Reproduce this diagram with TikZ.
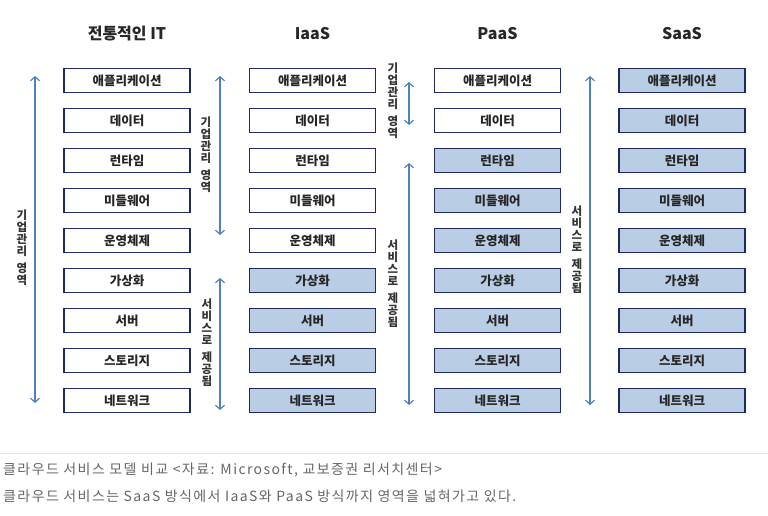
\documentclass[tikz,border=0pt]{standalone}
\usepackage{fontspec}
\setmainfont{Noto Sans CJK KR}
\newfontfamily\capfont{Noto Sans CJK KR}[LetterSpace=10]
\usetikzlibrary{arrows.meta}
\definecolor{navy}{HTML}{1F2B5E}
\definecolor{lblue}{HTML}{B9CDE5}
\definecolor{arr}{HTML}{4F81BD}
\definecolor{capgray}{HTML}{666666}
\definecolor{sepc}{HTML}{E6E6E6}
\begin{document}
\begin{tikzpicture}[x=1pt,y=-1pt,
 layer/.style={draw=navy, line width=1.9pt, minimum width=126pt, minimum height=24pt, inner sep=0pt, font=\bfseries\fontsize{12.5}{14}\selectfont, text=black!85},
 own/.style={layer, fill=white},
 svc/.style={layer, fill=lblue},
 hdr/.style={font=\bfseries\fontsize{16}{18}\selectfont, text=black!85},
 vlab/.style={font=\bfseries\fontsize{11.5}{12}\selectfont, align=center, inner sep=0pt, text=black!80},
 spanarr/.style={draw=arr, line width=1.2pt, {Straight Barb[length=4pt,width=9pt]}-{Straight Barb[length=4pt,width=9pt]}},
 captxt/.style={font=\capfont\fontsize{14}{16}\selectfont, text=capgray, anchor=west, inner sep=0pt}]

\useasboundingbox (0,0) rectangle (768,516);
\draw[sepc, line width=1pt] (0,453) -- (768,453);

% headers
\node[hdr] (h1) at (127,34) {전통적인 IT};
\node[hdr] (h2) at (312.5,34) {IaaS};
\node[hdr] (h3) at (497.5,34) {PaaS};
\node[hdr] (h4) at (682,34) {SaaS};

% layer boxes
\foreach \cx/\th/\c in {127/9/1, 312.5/5/2, 497.5/2/3, 682/0/4} {
  \foreach \t [count=\i] in {애플리케이션,데이터,런타임,미들웨어,운영체제,가상화,서버,스토리지,네트워크} {
    \ifnum\i>\th\relax \tikzset{cur/.style={svc}}\else\tikzset{cur/.style={own}}\fi
    \node[cur] (c\c r\i) at (\cx, 40*\i+40.5) {\t};
  }
}

% arrows
\coordinate (a1t) at (35,76);   \coordinate (a1b) at (35,403);
\coordinate (a2t) at (220,76);  \coordinate (a2b) at (220,235);
\coordinate (a2u) at (220,278); \coordinate (a2d) at (220,410);
\coordinate (a3t) at (409,82);  \coordinate (a3b) at (409,125);
\coordinate (a3u) at (409,163); \coordinate (a3d) at (409,405);
\coordinate (a4t) at (590,76);  \coordinate (a4b) at (590,405);
\draw[spanarr] (a1t) -- (a1b);
\draw[spanarr] (a2t) -- (a2b);
\draw[spanarr] (a2u) -- (a2d);
\draw[spanarr] (a3t) -- (a3b);
\draw[spanarr] (a3u) -- (a3d);
\draw[spanarr] (a4t) -- (a4b);

% vertical labels
\node[vlab] (l1) at (22,248) {기\\업\\관\\리\\[5pt]영\\역};
\node[vlab] (l2) at (206,155) {기\\업\\관\\리\\[5pt]영\\역};
\node[vlab] (l3) at (207,343) {서\\비\\스\\로\\[5pt]제\\공\\됨};
\node[vlab] (l4) at (393,101) {기\\업\\관\\리\\[5pt]영\\역};
\node[vlab] (l5) at (393,284) {서\\비\\스\\로\\[5pt]제\\공\\됨};
\node[vlab] (l6) at (577,250) {서\\비\\스\\로\\[5pt]제\\공\\됨};

% captions
\node[captxt] (cap1) at (3,470) {클라우드 서비스 모델 비교 <자료: Microsoft, 교보증권 리서치센터>};
\node[captxt] (cap2) at (3,496) {클라우드 서비스는 SaaS 방식에서 IaaS와 PaaS 방식까지 영역을 넓혀가고 있다.};
\end{tikzpicture}
\end{document}
